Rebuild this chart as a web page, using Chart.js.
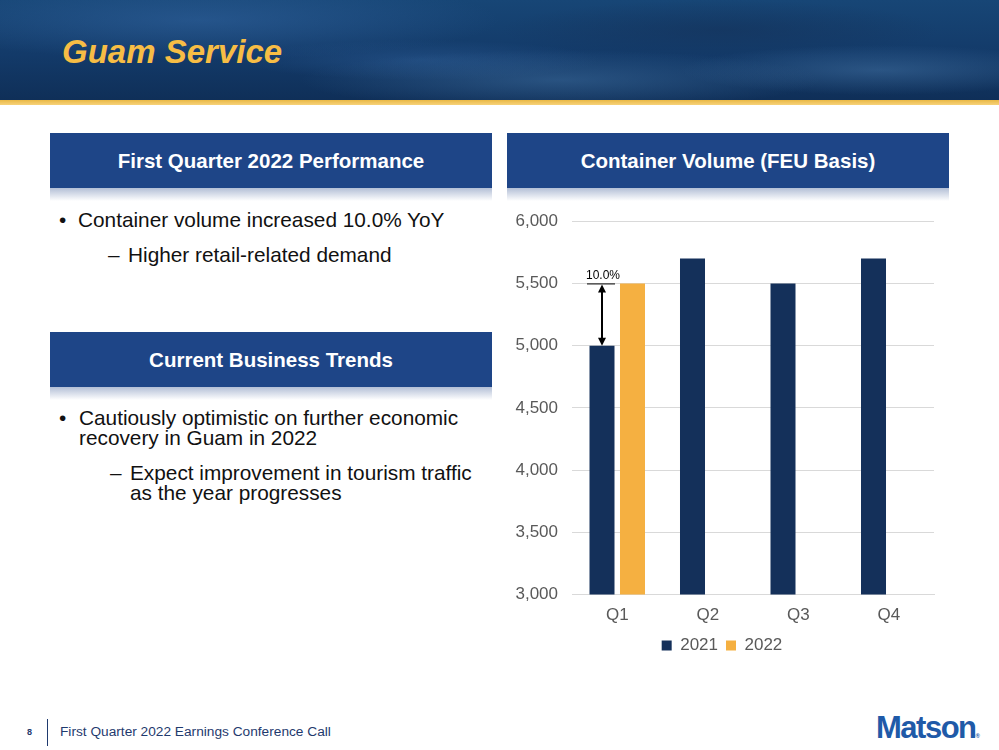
<!DOCTYPE html>
<html lang="en">
<head>
    <meta charset="UTF-8">
    <title>Guam Service</title>
    <script src="https://cdn.jsdelivr.net/npm/chart.js"></script>
    <style>
        body { margin: 0; width: 999px; height: 750px; position: relative; background: #fff;
               font-family: Arial, "Liberation Sans", sans-serif; overflow: hidden; }
        .banner { position: absolute; left: 0; top: 0; width: 999px; height: 100px;
            background:
                radial-gradient(ellipse 260px 30px at 560px 80px, rgba(70,120,170,0.45), transparent),
                radial-gradient(ellipse 200px 25px at 880px 70px, rgba(80,130,180,0.4), transparent),
                radial-gradient(ellipse 300px 40px at 200px 20px, rgba(50,100,160,0.55), transparent),
                radial-gradient(ellipse 180px 20px at 420px 60px, rgba(50,100,160,0.4), transparent),
                radial-gradient(ellipse 220px 30px at 720px 30px, rgba(20,50,90,0.6), transparent),
                linear-gradient(180deg, #174676 0%, #133a69 55%, #0f2f58 100%); }
        .goldline { position: absolute; left: 0; top: 100px; width: 999px; height: 5px;
            background: linear-gradient(180deg, #e9b845, #f7d27a); }
        .title { position: absolute; left: 62px; top: 33px; color: #f7bd45; font-size: 33px;
            font-weight: bold; font-style: italic; }
        .hbox { position: absolute; height: 55px; width: 442px; background: #1e4587; color: #fff;
            font-weight: bold; font-size: 20.5px; text-align: center; line-height: 55px; }
        .hbox::after { content: ""; position: absolute; left: 0; top: 55px; width: 100%; height: 13px;
            background: linear-gradient(180deg, #b3bfd6, rgba(255,255,255,0)); }
        .txt { position: absolute; color: #111; font-size: 20.8px; line-height: 19.5px; }
        .chartbox { position: absolute; left: 510px; top: 197px; width: 440px; height: 467px; }
        .pnum { position: absolute; left: 27px; top: 727px; font-size: 9px; font-weight: bold; color: #1f3a6e; }
        .vline { position: absolute; left: 47px; top: 719px; width: 1px; height: 27px; background: #1f3a6e; }
        .foot { position: absolute; left: 60px; top: 724px; font-size: 13.7px; color: #1f3a6e; }
        .logo { position: absolute; left: 876px; top: 710px; font-size: 31px; font-weight: bold;
            color: #1f5aa8; letter-spacing: -1.5px; }
        .logo small { font-size: 6px; letter-spacing: 0; }
    </style>
</head>
<body>
    <div class="banner"></div>
    <div class="goldline"></div>
    <div class="title">Guam Service</div>

    <div class="hbox" style="left:50px; top:133px;">First Quarter 2022 Performance</div>
    <div class="hbox" style="left:507px; top:133px;">Container Volume (FEU Basis)</div>
    <div class="hbox" style="left:50px; top:332px;">Current Business Trends</div>

    <div class="txt" style="left:59px; top:210px;">•</div>
    <div class="txt" style="left:78px; top:210px;">Container volume increased 10.0% YoY</div>
    <div class="txt" style="left:108px; top:245px;">–</div>
    <div class="txt" style="left:128px; top:245px;">Higher retail-related demand</div>

    <div class="txt" style="left:59px; top:408px;">•</div>
    <div class="txt" style="left:79px; top:408px;">Cautiously optimistic on further economic<br>recovery in Guam in 2022</div>
    <div class="txt" style="left:110px; top:463px;">–</div>
    <div class="txt" style="left:130px; top:463px;">Expect improvement in tourism traffic<br>as the year progresses</div>

    <div class="chartbox"><canvas id="volChart"></canvas></div>

    <div class="pnum">8</div>
    <div class="vline"></div>
    <div class="foot">First Quarter 2022 Earnings Conference Call</div>
    <div class="logo">Matson<small>®</small></div>

    <script>
        // chart data
        const quarters = ['Q1', 'Q2', 'Q3', 'Q4'];
        const vol2021 = [5000, 5700, 5500, 5700];
        const vol2022 = [5500, null, null, null];
        const yTicks = [3000, 3500, 4000, 4500, 5000, 5500, 6000];
        const growthLabel = '10.0%';

        const fontFam = 'Arial, "Liberation Sans"';

        // draws the 10.0% arrow between the Q1 bars
        const growthArrow = {
            id: 'growthArrow',
            afterDatasetsDraw(chart) {
                const ctx = chart.ctx;
                const y = chart.scales.y;
                const bar = chart.getDatasetMeta(0).data[0];
                const top = y.getPixelForValue(vol2022[0]);
                const bottom = y.getPixelForValue(vol2021[0]);
                const x = bar.x;
                ctx.save();
                ctx.strokeStyle = '#000';
                ctx.fillStyle = '#000';
                ctx.lineWidth = 1;
                ctx.beginPath();
                ctx.moveTo(x - 15, top + 0.5);
                ctx.lineTo(x + 13, top + 0.5);
                ctx.stroke();
                ctx.lineWidth = 2;
                ctx.beginPath();
                ctx.moveTo(x, top + 6);
                ctx.lineTo(x, bottom - 6);
                ctx.stroke();
                ctx.beginPath();
                ctx.moveTo(x, top + 1); ctx.lineTo(x - 4, top + 9); ctx.lineTo(x + 4, top + 9); ctx.closePath();
                ctx.fill();
                ctx.beginPath();
                ctx.moveTo(x, bottom); ctx.lineTo(x - 4, bottom - 8); ctx.lineTo(x + 4, bottom - 8); ctx.closePath();
                ctx.fill();
                ctx.font = '12px ' + fontFam;
                ctx.textAlign = 'center';
                ctx.textBaseline = 'bottom';
                ctx.fillText(growthLabel, x + 1, top - 2);
                ctx.restore();
            }
        };

        new Chart(document.getElementById('volChart'), {
            type: 'bar',
            data: {
                labels: quarters,
                datasets: [
                    { label: '2021', data: vol2021, backgroundColor: '#14305a' },
                    { label: '2022', data: vol2022, backgroundColor: '#f5b041' }
                ]
            },
            options: {
                responsive: true,
                maintainAspectRatio: false,
                animation: false,
                categoryPercentage: 0.674,
                barPercentage: 0.82,
                layout: { padding: { top: 1, right: 16, left: 0, bottom: 0 } },
                plugins: {
                    legend: {
                        position: 'bottom',
                        labels: { boxWidth: 10, boxHeight: 10, color: '#595959', padding: 8,
                                  font: { size: 17, family: fontFam } }
                    },
                    tooltip: { enabled: false }
                },
                scales: {
                    x: {
                        grid: { display: false },
                        border: { color: '#d9d9d9' },
                        ticks: { color: '#595959', padding: 3, font: { size: 17, family: fontFam } }
                    },
                    y: {
                        min: 3000, max: 6000,
                        afterBuildTicks: axis => { axis.ticks = yTicks.map(v => ({ value: v })); },
                        afterFit: axis => { axis.width = 62; },
                        grid: { color: '#d9d9d9', drawTicks: false },
                        border: { display: false },
                        ticks: { color: '#595959', padding: 14,
                                 font: { size: 17, family: fontFam },
                                 callback: v => v.toLocaleString('en-US') }
                    }
                }
            },
            plugins: [growthArrow]
        });
    </script>
</body>
</html>
